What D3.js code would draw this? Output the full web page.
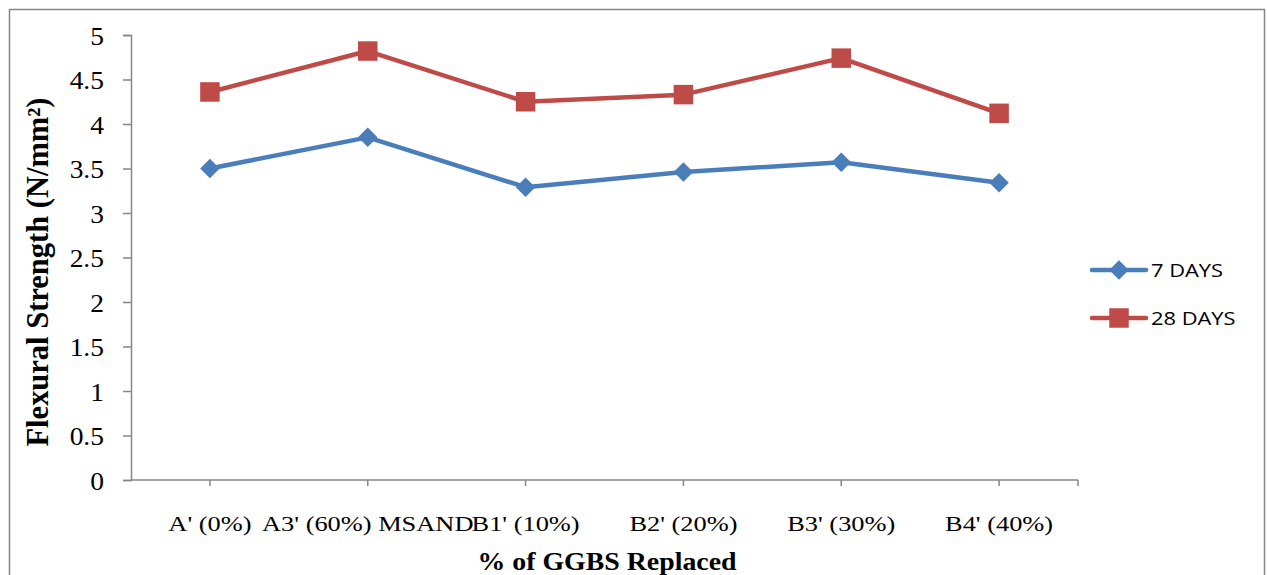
<!DOCTYPE html>
<html>
<head>
<meta charset="utf-8">
<script src="https://cdn.jsdelivr.net/npm/d3@7"></script>
<style>
  body { margin: 0; background: #fff; }
  svg { display: block; }
</style>
</head>
<body>
<svg id="chart" width="1267" height="575"></svg>
<script>
// Mix designs along the x axis
const categories = ["A' (0%)", "A3' (60%) MSAND", "B1' (10%)", "B2' (20%)", "B3' (30%)", "B4' (40%)"];
// Flexural strength, N/mm²
const days7 = [3.50, 3.85, 3.29, 3.46, 3.57, 3.34];
const days28 = [4.36, 4.82, 4.25, 4.33, 4.74, 4.12];
const yTicks = [0, 0.5, 1, 1.5, 2, 2.5, 3, 3.5, 4, 4.5, 5];
const seriesNames = ["7 DAYS", "28 DAYS"];

const series = [
  { name: seriesNames[0], values: days7, color: "#4A7EBB", marker: "diamond" },
  { name: seriesNames[1], values: days28, color: "#BE4B48", marker: "square" }
];

const svg = d3.select("#chart");
const axisColor = "#868686";
const serif = "'Liberation Serif', 'Times New Roman', serif";
const sans = "'Open Sans', 'Noto Sans', sans-serif";

// Outer chart frame
svg.append("rect")
  .attr("x", 9.5).attr("y", 9.5)
  .attr("width", 1255).attr("height", 600)
  .attr("fill", "none").attr("stroke", axisColor).attr("stroke-width", 1.5);

const plot = { left: 131, right: 1078, top: 35, bottom: 480 };

const x = d3.scaleBand().domain(categories).range([plot.left, plot.right]);
const y = d3.scaleLinear().domain([0, 5]).range([plot.bottom, plot.top]);
const cx = d => x(d) + x.bandwidth() / 2;

// Y axis
const yAxis = svg.append("g")
  .attr("transform", `translate(${plot.left},0)`)
  .call(d3.axisLeft(y).tickValues(yTicks).tickSize(8).tickPadding(0)
    .tickFormat(d => String(d)));
yAxis.select(".domain").attr("stroke", axisColor).attr("stroke-width", 1.5);
yAxis.selectAll(".tick line").attr("stroke", axisColor).attr("stroke-width", 1.5);
yAxis.selectAll(".tick text")
  .attr("x", null).attr("dy", null)
  .attr("transform", "translate(-27,9) scale(1.1,1)")
  .attr("font-family", serif).attr("font-size", 25).attr("fill", "#000");

// X axis: ticks at category centres plus closing tick at the end
const xAxis = svg.append("g").attr("transform", `translate(0,${plot.bottom})`);
xAxis.append("line")
  .attr("x1", plot.left).attr("x2", plot.right)
  .attr("stroke", axisColor).attr("stroke-width", 1.5);
const xTickPositions = categories.map(cx).concat([plot.right]);
xAxis.selectAll("line.tick")
  .data(xTickPositions).join("line").attr("class", "tick")
  .attr("x1", d => d).attr("x2", d => d).attr("y1", 0).attr("y2", 6)
  .attr("stroke", axisColor).attr("stroke-width", 1.5);
xAxis.selectAll("text")
  .data(categories).join("text")
  .attr("transform", d => `translate(${cx(d)},51) scale(1.2,1)`)
  .attr("text-anchor", "middle")
  .attr("font-family", serif).attr("font-size", 22).attr("fill", "#000")
  .text(d => d);

// Axis titles
svg.append("text")
  .attr("x", 607).attr("y", 570)
  .attr("text-anchor", "middle")
  .attr("textLength", 259).attr("lengthAdjust", "spacingAndGlyphs")
  .attr("font-family", serif).attr("font-size", 26).attr("font-weight", "bold")
  .text("% of GGBS Replaced");

svg.append("text")
  .attr("transform", "translate(48,272) rotate(-90)")
  .attr("text-anchor", "middle")
  .attr("textLength", 349).attr("lengthAdjust", "spacingAndGlyphs")
  .attr("font-family", serif).attr("font-size", 31).attr("font-weight", "bold")
  .text("Flexural Strength (N/mm²)");

// Lines and markers
const line = d3.line().x((d, i) => cx(categories[i])).y(d => y(d));
const diamond = d3.symbol().type(d3.symbolSquare).size(190);
const square = d3.symbol().type(d3.symbolSquare).size(380);

function drawMarker(g, kind, color, px, py) {
  if (kind === "diamond") {
    g.append("path").attr("d", diamond())
      .attr("transform", `translate(${px},${py}) rotate(45)`)
      .attr("fill", color);
  } else {
    g.append("path").attr("d", square())
      .attr("transform", `translate(${px},${py})`)
      .attr("fill", color);
  }
}

series.forEach(s => {
  const g = svg.append("g");
  g.append("path").datum(s.values)
    .attr("d", line).attr("fill", "none")
    .attr("stroke", s.color).attr("stroke-width", 4.5)
    .attr("stroke-linejoin", "round");
  s.values.forEach((v, i) => drawMarker(g, s.marker, s.color, cx(categories[i]), y(v)));
});

// Legend
const legend = svg.append("g");
series.forEach((s, i) => {
  const ly = 270 + i * 48;
  legend.append("line")
    .attr("x1", 1092).attr("x2", 1146).attr("y1", ly).attr("y2", ly)
    .attr("stroke", s.color).attr("stroke-width", 4.5).attr("stroke-linecap", "round");
  drawMarker(legend, s.marker, s.color, 1119, ly);
  legend.append("text")
    .attr("transform", `translate(1151,${ly + 7}) scale(1.15,1)`)
    .attr("font-family", sans).attr("font-size", 19)
    .attr("fill", "#000")
    .text(s.name);
});
</script>
</body>
</html>
